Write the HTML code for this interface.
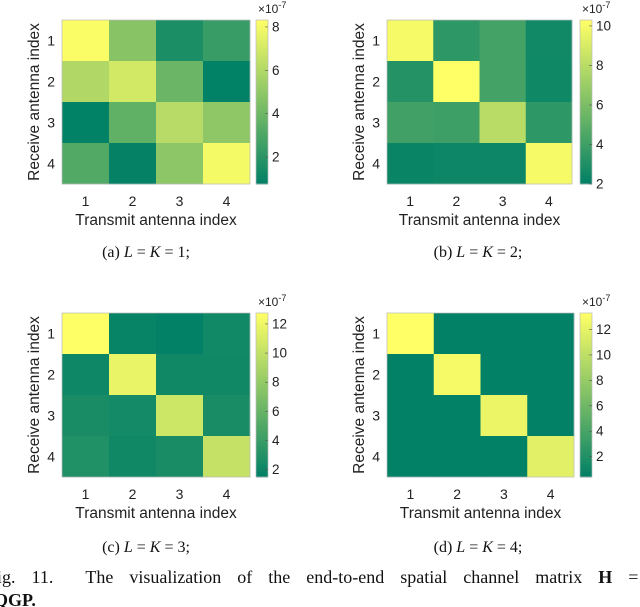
<!DOCTYPE html>
<html><head><meta charset="utf-8"><style>
body{margin:0;background:#fff;}
svg{display:block;font-family:"Liberation Sans",sans-serif;}
.cap{font-family:"Liberation Serif",serif;}
</style></head><body>
<svg id="s" width="640" height="607" viewBox="0 0 640 607"></svg>
<script>
const rowLabels=["1","2","3","4"];
const colLabels=["1","2","3","4"];
const matA=[[8.2,4.8,1.6,2.4],[6.0,7.0,3.9,0.8],[0.8,3.6,6.2,5.0],[3.2,0.9,4.9,8.0]];
const matB=[[10.0,3.5,4.2,2.6],[3.2,10.3,4.2,2.5],[4.1,4.0,8.0,3.5],[2.3,2.4,2.4,10.0]];
const matC=[[12.7,1.8,1.6,2.3],[2.1,11.8,2.2,2.2],[2.6,2.4,10.5,2.6],[2.9,2.2,2.6,10.2]];
const matD=[[13.3,0.5,0.5,0.5],[0.5,12.8,0.5,0.5],[0.5,0.5,12.3,0.5],[0.5,0.5,0.5,11.8]];
const rangeA=[0.76,8.32], rangeB=[2.0,10.3], rangeC=[1.5,12.75], rangeD=[0.4,13.3];
const ticksA=[2,4,6,8], ticksB=[2,4,6,8,10], ticksC=[2,4,6,8,10,12], ticksD=[2,4,6,8,10,12];
const captions=["(a) ","(b) ","(c) ","(d) "];
const capNums=["1","2","3","4"];

const NS="http://www.w3.org/2000/svg";
const svg=document.getElementById('s');
function mk(tag,attrs,parent,text){const e=document.createElementNS(NS,tag);for(const k in attrs)e.setAttribute(k,attrs[k]);if(text!==undefined)e.textContent=text;(parent||svg).appendChild(e);return e;}
function summer(t){t=Math.max(0,Math.min(1,t));return `rgb(${Math.round(255*t)},${Math.round(128+127*t)},102)`;}

const panels=[
 {m:matA,r:rangeA,t:ticksA,x0:62,x1:250,y0:20,y1:184,cb:256,cy:252,cx:146},
 {m:matB,r:rangeB,t:ticksB,x0:387,x1:572,y0:20,y1:184,cb:580,cy:252,cx:478},
 {m:matC,r:rangeC,t:ticksC,x0:62,x1:250,y0:313,y1:477,cb:256,cy:547,cx:146},
 {m:matD,r:rangeD,t:ticksD,x0:387,x1:574,y0:313,y1:477,cb:580,cy:547,cx:478}
];
panels.forEach((p,pi)=>{
 const g=mk('g',{});
 
 
 const cw=(p.x1-p.x0)/colLabels.length, ch=(p.y1-p.y0)/rowLabels.length;
 const norm=v=>(v-p.r[0])/(p.r[1]-p.r[0]);
 p.m.forEach((row,i)=>row.forEach((v,j)=>{
  const c=mk('rect',{x:p.x0+j*cw,y:p.y0+i*ch,width:cw+0.3,height:ch+0.3,fill:summer(norm(v))},g);
  
  
 }));
 mk('rect',{x:p.x0,y:p.y0,width:p.x1-p.x0,height:p.y1-p.y0,fill:'none',stroke:'#bbb','stroke-width':0.7},g);
 colLabels.forEach((l,j)=>{
  const t=mk('text',{x:p.x0+(j+0.5)*cw,y:p.y1+22,'font-size':14,'text-anchor':'middle',fill:'#222'},g,l);
  
  
 });
 rowLabels.forEach((l,i)=>{
  const t=mk('text',{x:p.x0-7,y:p.y0+(i+0.5)*ch+5,'font-size':14,'text-anchor':'end',fill:'#222'},g,l);
  
  
 });
 const xl=mk('text',{x:(p.x0+p.x1)/2,y:p.y1+41,'font-size':15.5,'text-anchor':'middle',fill:'#222'},g,'Transmit antenna index');
 
 
 const yc=(p.y0+p.y1)/2, yx=p.x0-23;
 const yl=mk('text',{x:yx,y:yc,'font-size':15.5,'text-anchor':'middle',fill:'#222',transform:`rotate(-90 ${yx} ${yc})`},g,'Receive antenna index');
 
 
 const cbh=p.y1-p.y0, n=60;
 for(let k=0;k<n;k++){
  const r=mk('rect',{x:p.cb,y:p.y1-(k+1)*cbh/n,width:12,height:cbh/n+0.5,fill:summer((k+0.5)/n)},g);
  
  
 }
 mk('rect',{x:p.cb,y:p.y0,width:12,height:cbh,fill:'none',stroke:'#bbb','stroke-width':0.7},g);
 p.t.forEach(v=>{
  const y=p.y1-norm(v)*cbh;
  mk('line',{x1:p.cb+9,x2:p.cb+12,y1:y,y2:y,stroke:'#555','stroke-width':0.6},g);
  const t=mk('text',{x:p.cb+16,y:y+4.5,'font-size':13.5,fill:'#222'},g,String(v));
  
  
 });
 const ex=mk('text',{x:p.cb+2,y:p.y0-7,'font-size':12,fill:'#222'},g);
 
 
 ex.innerHTML='×10<tspan dy="-5" font-size="9">-7</tspan>';
 const cap=mk('text',{x:p.cx,y:p.cy+5,'font-size':16,'text-anchor':'middle',fill:'#111',class:'cap'},g);
 
 
 cap.innerHTML=captions[pi]+'<tspan font-style="italic">L</tspan> = <tspan font-style="italic">K</tspan> = '+capNums[pi]+';';
});
const f1=mk('text',{x:-3,y:583,'font-size':18,fill:'#111',class:'cap','word-spacing':'11.5'},svg);


f1.innerHTML='ig. 11.&#160;&#160;The visualization of the end-to-end spatial channel matrix <tspan font-weight="bold">H</tspan> =';
const f2=mk('text',{x:-6,y:606,'font-size':18,fill:'#111',class:'cap','font-weight':'bold'},svg,'QGP.');


</script>
</body></html>
